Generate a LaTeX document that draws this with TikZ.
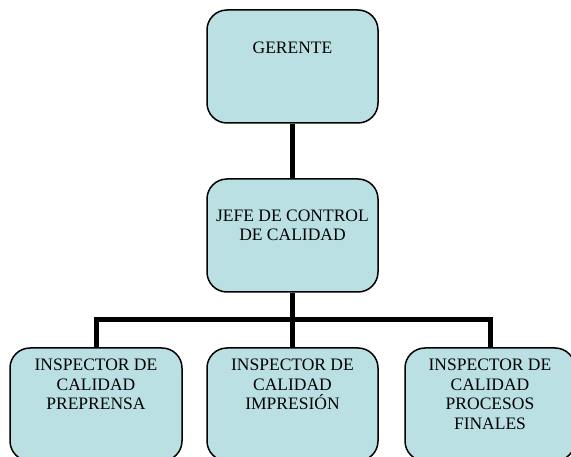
\documentclass[tikz,border=0pt]{standalone}
\usepackage{fontspec}
\setmainfont{Liberation Serif}
\begin{document}
\begin{tikzpicture}[x=1pt,y=-1pt,
  orgbox/.style={draw=black, line width=1.5pt, fill=boxblue, rounded corners=20pt,
    minimum width=171pt, minimum height=113pt, inner sep=0pt},
  boxtext/.style={anchor=base, align=center, inner sep=0pt, text=black,
    font=\fontsize{17.5}{19.5}\selectfont},
  link/.style={line width=5pt, draw=black}]
\definecolor{boxblue}{HTML}{BBE0E3}
\useasboundingbox (0,0) rectangle (571,457);
% boxes
\node[orgbox] (gerente) at (292.5,66.5) {};
\node[orgbox] (jefe) at (292.5,235.5) {};
\node[orgbox, minimum width=172pt] (insp1) at (96,404.5) {};
\node[orgbox] (insp2) at (292.5,404.5) {};
\node[orgbox, minimum width=170pt] (insp3) at (490,404.5) {};
\coordinate (bar) at (292.5,320);
% connectors
\draw[link] (gerente.south) -- (jefe.north);
\draw[link] (jefe.south) -- (insp2.north);
\draw[link] (insp1.north) -- (insp1.north |- bar) -- (insp3.north |- bar) -- (insp3.north);
% labels
\node[boxtext] (t0) at (292.5,54) {GERENTE};
\node[boxtext, anchor=north] (t1) at (292.5,209.5) {JEFE DE CONTROL\\DE CALIDAD};
\node[boxtext, anchor=north] (t2) at (96,359) {INSPECTOR DE\\CALIDAD\\PREPRENSA};
\node[boxtext, anchor=north] (t3) at (292.5,359) {INSPECTOR DE\\CALIDAD\\IMPRESIÓN};
\node[boxtext, anchor=north] (t4) at (490,359) {INSPECTOR DE\\CALIDAD\\PROCESOS\\FINALES};
\end{tikzpicture}
\end{document}
